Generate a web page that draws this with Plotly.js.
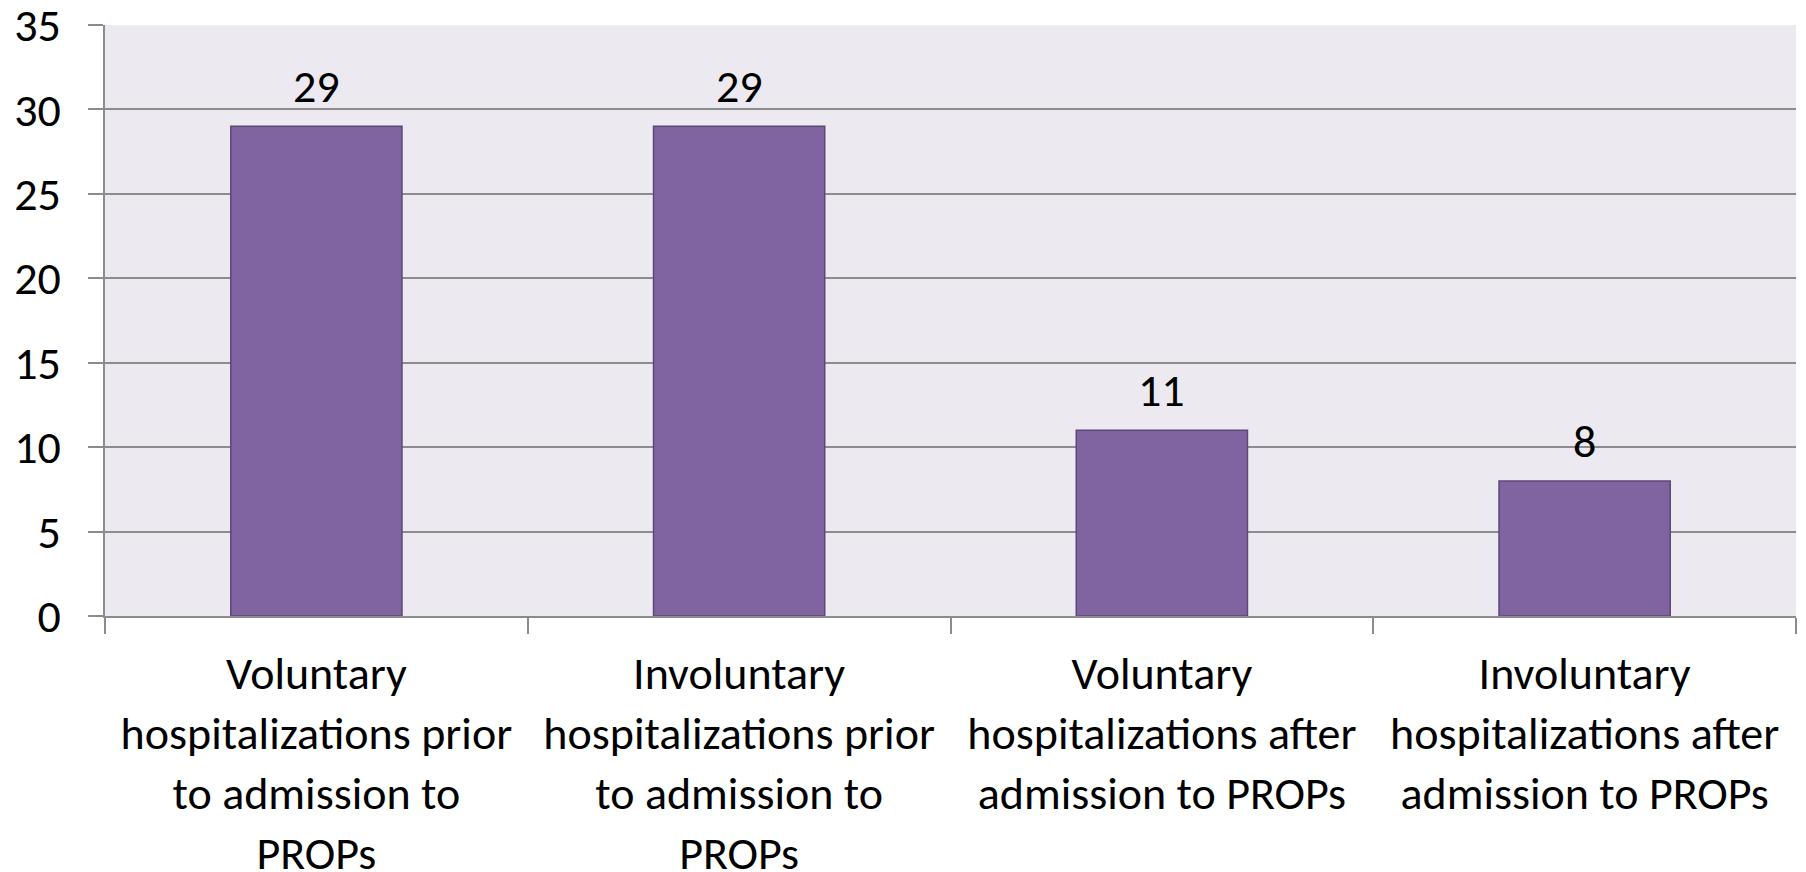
<!DOCTYPE html>
<html>
<head>
<meta charset="utf-8">
<script src="https://cdn.plot.ly/plotly-3.0.1.min.js"></script>
<style>html,body{margin:0;padding:0;background:#fff;}</style>
</head>
<body>
<div id="chart" style="width:1806px;height:872px;"></div>
<script>
const categories = [
  "Voluntary<br>hospitalizations prior<br>to admission to<br>PROPs",
  "Involuntary<br>hospitalizations prior<br>to admission to<br>PROPs",
  "Voluntary<br>hospitalizations after<br>admission to PROPs",
  "Involuntary<br>hospitalizations after<br>admission to PROPs"
];
const values = [29, 29, 11, 8];
const yTicks = [0, 5, 10, 15, 20, 25, 30, 35];

const fontFam = "Carlito, Calibri, Lato, 'Noto Sans', sans-serif";
const FS = 46;

const trace = {
  type: 'bar',
  x: categories,
  y: values,
  marker: {color: '#8064A2', line: {color: '#5C4776', width: 1.5}},
  width: 0.405,
  hoverinfo: 'x+y'
};

const annotations = categories.map((c, i) => ({
  x: c, y: values[i], xref: 'x', yref: 'y',
  text: String(values[i]),
  showarrow: false, yanchor: 'bottom', yshift: 10,
  font: {family: fontFam, size: FS, color: '#000'}
}));

const layout = {
  width: 1806, height: 872,
  margin: {l: 105, r: 10, t: 25, b: 256},
  paper_bgcolor: '#ffffff',
  plot_bgcolor: '#ECEAF0',
  showlegend: false,
  font: {family: fontFam, size: FS, color: '#000'},
  annotations: annotations,
  xaxis: {
    type: 'category',
    tickson: 'boundaries',
    ticks: 'outside', ticklen: 16, tickwidth: 2, tickcolor: '#8C8C8C',
    showline: true, linecolor: '#8C8C8C', linewidth: 2,
    showgrid: false,
    tickfont: {family: fontFam, size: FS, color: '#000'},
    ticklabelstandoff: 16,
    ticklabeloverflow: 'allow',
    automargin: false
  },
  yaxis: {
    range: [0, 35],
    tickvals: yTicks,
    ticktext: yTicks.map(String),
    ticks: 'outside', ticklen: 15, tickwidth: 2, tickcolor: '#8C8C8C',
    showline: true, linecolor: '#8C8C8C', linewidth: 2,
    showgrid: true, gridcolor: '#8C8C8C', gridwidth: 2,
    zeroline: false,
    tickfont: {family: fontFam, size: FS, color: '#000'},
    ticklabelstandoff: 18,
    ticklabeloverflow: 'allow',
    automargin: false
  }
};

Plotly.newPlot('chart', [trace], layout, {displayModeBar: false, staticPlot: true});
</script>
</body>
</html>
